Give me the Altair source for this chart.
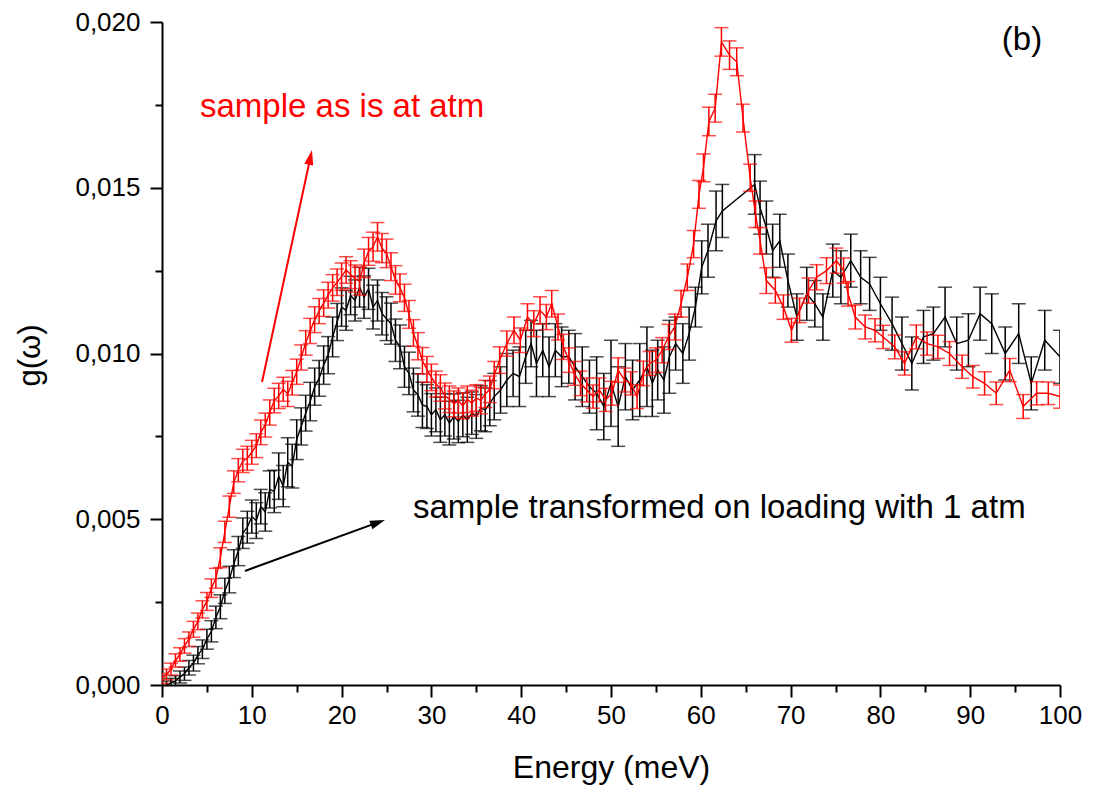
import altair as alt
import pandas as pd

# ---------------- data ----------------
# black series: "sample transformed on loading with 1 atm"
black_E = [0.5, 1.0, 1.5, 2.0, 2.5, 3.0, 3.5, 4.0, 4.5, 5.0, 5.5, 6.0, 6.5, 7.0, 7.5, 8.0, 8.5, 9.0, 9.5, 10.0,
           10.5, 11.0, 11.5, 12.0, 12.5, 13.0, 13.5, 14.0, 14.5, 15.0, 15.5, 16.0, 16.5, 17.0, 17.5, 18.0, 18.5, 19.0, 19.5, 20.0,
           20.5, 21.0, 21.5, 22.0, 22.5, 23.0, 23.5, 24.0, 24.5, 25.0, 25.5, 26.0, 26.5, 27.0, 27.5, 28.0, 28.5, 29.0, 29.5, 30.0,
           30.5, 31.0, 31.5, 32.0, 32.5, 33.0, 33.5, 34.0, 34.5, 35.0, 35.5, 36.0, 36.5, 37.0,
           37.7, 38.4, 39.1, 39.8, 40.5, 41.1, 41.7, 42.4, 43.1, 43.8, 44.5, 45.3, 46.0, 46.8, 47.6, 48.4, 49.2, 50.0, 50.8, 51.6,
           52.4, 53.2, 54.0, 54.6, 55.2, 55.9, 56.5, 57.2, 58.0, 58.7, 59.4, 60.1, 60.8, 61.7, 62.4, 66.0, 66.6, 67.3, 68.0, 68.8,
           69.7, 70.7, 71.8, 72.7, 73.6, 74.7, 75.6, 76.7, 77.8, 78.8, 80.0, 81.3, 82.4, 83.5, 84.8, 85.9, 87.2, 88.5, 89.8, 91.1,
           92.4, 93.9, 95.4, 96.8, 98.3, 100.0]
black_g = [0.00000, 0.00006, 0.00012, 0.00024, 0.00034, 0.00052, 0.00066, 0.00090, 0.00108, 0.00138,
           0.00162, 0.00204, 0.00236, 0.00284, 0.00318, 0.00366, 0.00404, 0.00458, 0.00476, 0.00508,
           0.00496, 0.00538, 0.00522, 0.00590, 0.00584, 0.00630, 0.00600, 0.00672, 0.00660, 0.00740,
           0.00780, 0.00820, 0.00855, 0.00900, 0.00925, 0.00965, 0.00995, 0.01050, 0.01095, 0.01140,
           0.01130, 0.01175, 0.01160, 0.01200, 0.01170, 0.01195, 0.01140, 0.01160, 0.01120, 0.01105,
           0.01090, 0.01040, 0.01020, 0.00960, 0.00940, 0.00890, 0.00875, 0.00845, 0.00840, 0.00815,
           0.00830, 0.00800, 0.00815, 0.00790, 0.00810, 0.00795, 0.00815, 0.00800, 0.00820, 0.00810,
           0.00835, 0.00830, 0.00850, 0.00870,
           0.0089, 0.0092, 0.0094, 0.0093, 0.0099, 0.0103, 0.0097, 0.0101, 0.0096, 0.0101,
           0.0099, 0.0099, 0.0096, 0.0093, 0.0090, 0.0088, 0.0084, 0.0091, 0.0084, 0.0093,
           0.0089, 0.0092, 0.0096, 0.0091, 0.0095, 0.0092, 0.0099, 0.0103, 0.0100, 0.0106,
           0.0114, 0.0126, 0.0131, 0.0140, 0.0143, 0.0151, 0.0144, 0.0138, 0.0131, 0.0134,
           0.0122, 0.0111, 0.0118, 0.0115, 0.0111, 0.0125, 0.0123, 0.0128, 0.0123, 0.0121,
           0.0115, 0.0109, 0.0103, 0.0097, 0.0105, 0.0106, 0.0111, 0.0103, 0.0104, 0.0112,
           0.0109, 0.0100, 0.0106, 0.0091, 0.0104, 0.0099]
black_err = [0.00012, 0.00014, 0.00016, 0.00018, 0.00020, 0.00022,
             0.00024, 0.00026, 0.00028, 0.00030, 0.00032, 0.00034, 0.00036, 0.00038,
             0.00040, 0.00042, 0.00044, 0.00046, 0.00048, 0.00050, 0.00054, 0.00052, 0.00058, 0.00056,
             0.00064, 0.00070, 0.00062, 0.00074, 0.00066, 0.00060,
             0.00056, 0.00054, 0.00058, 0.00056, 0.00054, 0.00058, 0.00056, 0.00060, 0.00056, 0.00058,
             0.00060, 0.00058, 0.00062, 0.00060, 0.00064, 0.00062, 0.00066, 0.00062, 0.00064, 0.00066,
             0.00062, 0.00064, 0.00066, 0.00062, 0.00064, 0.00066, 0.00064, 0.00068, 0.00066, 0.00064,
             0.00066, 0.00068, 0.00064, 0.00066, 0.00068, 0.00064, 0.00066, 0.00068, 0.00064, 0.00066,
             0.00068, 0.00066, 0.00068, 0.00070,
             0.0007, 0.0008, 0.0007, 0.0009, 0.0008, 0.0007, 0.0010, 0.0008, 0.0009, 0.0008,
             0.0009, 0.0008, 0.0010, 0.0009, 0.0008, 0.0011, 0.0010, 0.0013, 0.0012, 0.0010,
             0.0009, 0.0011, 0.0012, 0.0010, 0.0009, 0.0010, 0.0011, 0.0008, 0.0009, 0.0008,
             0.0006, 0.0008, 0.0008, 0.0009, 0.0008, 0.0009, 0.0008, 0.0008, 0.0008, 0.0008,
             0.0008, 0.0007, 0.0008, 0.0007, 0.0007, 0.0008, 0.0008, 0.0008, 0.0008, 0.0008,
             0.0008, 0.0008, 0.0008, 0.0008, 0.0008, 0.0008, 0.0009, 0.0008, 0.0008, 0.0008,
             0.0009, 0.0008, 0.0009, 0.0008, 0.0009, 0.0008]

# red series: "sample as is at atm"
red_E = [0.0, 0.5, 1.0, 1.5, 2.0, 2.5, 3.0, 3.5, 4.0, 4.5, 5.0, 5.5, 6.0, 6.5, 7.0, 7.5, 8.0, 8.5, 9.0, 9.5, 10.0,
         10.5, 11.0, 11.5, 12.0, 12.5, 13.0, 13.5, 14.0, 14.5, 15.0, 15.5, 16.0, 16.5, 17.0, 17.5, 18.0, 18.5, 19.0, 19.5, 20.0,
         20.5, 21.0, 21.5, 22.0, 22.5, 23.0, 23.5, 24.0, 24.5, 25.0, 25.5, 26.0, 26.5, 27.0, 27.5, 28.0, 28.5, 29.0, 29.5, 30.0,
         30.5, 31.0, 31.5, 32.0, 32.5, 33.0, 33.5, 34.0, 34.5, 35.0, 35.5, 36.0, 36.5, 37.0,
         37.6, 38.4, 39.2, 39.9, 40.7, 41.4, 42.1, 42.8, 43.4, 44.1, 44.7, 45.3, 45.9, 46.6, 47.3, 48.0, 48.7, 49.4, 50.1, 50.8,
         51.5, 52.2, 52.9, 53.6, 54.3, 55.0, 55.7, 56.4, 57.1, 57.8, 58.5, 59.2, 59.8, 60.3, 60.9, 61.6, 62.3, 63.2, 64.0, 64.7,
         65.5, 66.1, 66.6, 67.3, 68.3, 69.2, 70.1, 71.0, 72.0, 72.9, 74.0, 75.1, 75.9, 76.4, 77.2, 78.3, 79.4, 80.3, 81.6, 82.7,
         84.0, 85.2, 86.4, 87.7, 89.1, 90.3, 91.6, 92.9, 94.4, 95.9, 97.4, 98.7, 100.0]
red_g = [0.00020, 0.00032, 0.00048, 0.00074, 0.00092, 0.00118, 0.00138, 0.00168, 0.00192, 0.00228, 0.00252,
         0.00292, 0.00322, 0.00384, 0.00462, 0.00538, 0.00612, 0.00648, 0.00676, 0.00684, 0.00702,
         0.00722, 0.00762, 0.00784, 0.00822, 0.00858, 0.00872, 0.00892, 0.00878, 0.00912, 0.00945,
         0.00988, 0.01032, 0.01068, 0.01102, 0.01128, 0.01152, 0.01176, 0.01198, 0.01215, 0.01232,
         0.01252, 0.01238, 0.01226, 0.01218, 0.01272, 0.01308, 0.01322, 0.01352, 0.01318, 0.01302,
         0.01262, 0.01222, 0.01198, 0.01168, 0.01118, 0.01062, 0.01022, 0.00978, 0.00952, 0.00928,
         0.00908, 0.00896, 0.00872, 0.00862, 0.00848, 0.00858, 0.00842, 0.00862, 0.00850, 0.00866,
         0.00858, 0.00878, 0.00892, 0.00935,
         0.0098, 0.0103, 0.0107, 0.0104, 0.0111, 0.0109, 0.0113, 0.0111, 0.0115, 0.0108,
         0.0102, 0.0098, 0.0094, 0.0091, 0.0089, 0.0087, 0.0089, 0.0086, 0.0088, 0.0095,
         0.0092, 0.0091, 0.0087, 0.0094, 0.0097, 0.0098, 0.0101, 0.0105, 0.0108, 0.0115,
         0.0123, 0.0133, 0.0148, 0.0156, 0.0170, 0.0174, 0.0194, 0.0190, 0.0188, 0.0171,
         0.0153, 0.0142, 0.0134, 0.0122, 0.0119, 0.0114, 0.0107, 0.0113, 0.0119, 0.0123,
         0.0125, 0.0128, 0.0125, 0.0118, 0.0111, 0.0108, 0.0107, 0.0105, 0.0102, 0.0097,
         0.0105, 0.0103, 0.0102, 0.0100, 0.0096, 0.0093, 0.0091, 0.0088, 0.0095, 0.0084,
         0.0088, 0.0088, 0.0087]
red_err = [0.00015, 0.00016, 0.00018, 0.00020, 0.00020, 0.00022, 0.00022, 0.00024, 0.00025, 0.00026, 0.00027,
           0.00028, 0.00030, 0.00030, 0.00032, 0.00032, 0.00034, 0.00035, 0.00035, 0.00036, 0.00036,
           0.00036, 0.00037, 0.00036, 0.00038, 0.00037, 0.00038, 0.00036, 0.00038, 0.00037, 0.00038,
           0.00038, 0.00037, 0.00038, 0.00039, 0.00038, 0.00040, 0.00039, 0.00040, 0.00040, 0.00041,
           0.00040, 0.00042, 0.00041, 0.00042, 0.00043, 0.00042, 0.00044, 0.00043, 0.00044, 0.00043,
           0.00042, 0.00043, 0.00042, 0.00041, 0.00042, 0.00040, 0.00041, 0.00040, 0.00039, 0.00040,
           0.00039, 0.00040, 0.00039, 0.00040, 0.00039, 0.00038, 0.00039, 0.00040, 0.00039, 0.00040,
           0.00040, 0.00041, 0.00040, 0.00041,
           0.00040, 0.00038, 0.00040, 0.00037, 0.00040, 0.00039, 0.00041, 0.00038, 0.00040, 0.00039,
           0.00038, 0.00037, 0.00036, 0.00037, 0.00036, 0.00035, 0.00036, 0.00035, 0.00036, 0.00037,
           0.00036, 0.00035, 0.00036, 0.00037, 0.00036, 0.00037, 0.00038, 0.00038, 0.00039, 0.00040,
           0.00040, 0.00041, 0.00042, 0.00042, 0.00043, 0.00042, 0.00043, 0.00043, 0.00042, 0.00042,
           0.00041, 0.00040, 0.00040, 0.00039, 0.00038, 0.00037, 0.00036, 0.00037, 0.00038, 0.00038,
           0.00039, 0.00038, 0.00038, 0.00037, 0.00036, 0.00036, 0.00035, 0.00035, 0.00036, 0.00035,
           0.00036, 0.00035, 0.00035, 0.00036, 0.00035, 0.00034, 0.00035, 0.00034, 0.00035, 0.00036,
           0.00035, 0.00034, 0.00035]

x_tick_values = [0, 5, 10, 15, 20, 25, 30, 35, 40, 45, 50, 55, 60, 65, 70, 75, 80, 85, 90, 95, 100]
y_tick_values = [0.0, 0.0025, 0.005, 0.0075, 0.01, 0.0125, 0.015, 0.0175, 0.02]

# annotations (text, position in data units)
ann_text = ["sample as is at atm", "sample transformed on loading with 1 atm", "(b)"]
ann_x = [4.23, 27.95, 95.77]
ann_y = [0.01713, 0.00504, 0.01946]
ann_color = ["#ff0000", "#000000", "#000000"]
ann_size = [33, 33, 33]
ann_baseline = ["alphabetic", "alphabetic", "middle"]
ann_align = ["left", "left", "center"]

arrow_x = [11.14, 9.24]
arrow_y = [0.00914, 0.00344]
arrow_x2 = [16.51, 23.99]
arrow_y2 = [0.01590, 0.00490]
tip_x = [16.70, 24.83]
tip_y = [0.01614, 0.00498]
tip_angle = [12.2, 70.0]
arrow_color = ["#ff0000", "#000000"]

# ---------------- build tables ----------------
FONT = "Liberation Sans"


def series_tables(E, g, err):
    df = pd.DataFrame({"E": E, "g": g, "err": err})
    df["lo"] = df["g"] - df["err"]
    df["hi"] = df["g"] + df["err"]
    caps = pd.DataFrame({"E": list(df["E"]) * 2, "v": list(df["lo"]) + list(df["hi"])})
    return df, caps


black_df, black_caps = series_tables(black_E, black_g, black_err)
red_df, red_caps = series_tables(red_E, red_g, red_err)

ann_df = pd.DataFrame({"text": ann_text, "x": ann_x, "y": ann_y, "color": ann_color})
arrow_df = pd.DataFrame({"x": arrow_x, "y": arrow_y, "x2": arrow_x2, "y2": arrow_y2,
                         "tx": tip_x, "ty": tip_y, "ang": tip_angle, "color": arrow_color})

xs = alt.Scale(domain=[0, 100], nice=False, zero=False)
ys = alt.Scale(domain=[0, 0.02], nice=False, zero=False)

xaxis = alt.Axis(
    values=x_tick_values,
    labelExpr="datum.value % 10 === 0 ? datum.label : ''",
    format="d",
    tickSize={"condition": {"test": "datum.value % 10 === 0", "value": 12}, "value": 7},
    tickWidth=2, tickColor="black", domainWidth=2, domainColor="black",
    labelFont=FONT, labelFontSize=26, labelColor="black", labelPadding=5,
    labelFlush=False, labelOverlap=False, grid=False,
    titleFont=FONT, titleFontSize=32, titleFontWeight="normal", titleColor="black",
    titleX=449, titleY=92, titleBaseline="alphabetic", titleAlign="center",
)
yaxis = alt.Axis(
    values=y_tick_values,
    labelExpr="round(datum.value*1000) % 5 === 0 ? replace(format(datum.value, '.3f'), '.', ',') : ''",
    tickSize={"condition": {"test": "round(datum.value*1000) % 5 === 0", "value": 12}, "value": 7},
    tickWidth=2, tickColor="black", domainWidth=2, domainColor="black",
    labelFont=FONT, labelFontSize=26, labelColor="black", labelPadding=10,
    labelFlush=False, labelOverlap=False, grid=False,
    titleFont=FONT, titleFontSize=31, titleFontWeight="normal", titleColor="black",
    titleX=-132, titleY=333, titleBaseline="middle", titleAlign="center", titleAngle=270,
)

XT = "Energy (meV)"
YT = "g(ω)"


def X(field):
    return alt.X(field, type="quantitative", scale=xs, axis=xaxis, title=XT)


def Y(field):
    return alt.Y(field, type="quantitative", scale=ys, axis=yaxis, title=YT)


def series_layers(df, caps, color):
    rules = alt.Chart(df).mark_rule(color=color, strokeWidth=1.5, clip=True).encode(
        x=X("E"), y=Y("lo"), y2="hi")
    cap = alt.Chart(caps).mark_tick(color=color, orient="horizontal", size=14, thickness=1.5, clip=True).encode(
        x=X("E"), y=Y("v"))
    line = alt.Chart(df).mark_line(color=color, strokeWidth=1.4, clip=True).encode(
        x=X("E"), y=Y("g"))
    return [rules, cap, line]


texts = []
for i in range(len(ann_text)):
    sub = ann_df.iloc[[i]]
    texts.append(
        alt.Chart(sub).mark_text(font=FONT, fontSize=ann_size[i], baseline=ann_baseline[i],
                                 align=ann_align[i], color=ann_color[i]).encode(
            x=X("x"), y=Y("y"), text="text:N")
    )

arrow_lines = alt.Chart(arrow_df).mark_rule(strokeWidth=2).encode(
    x=X("x"), y=Y("y"), x2="x2", y2="y2", color=alt.Color("color:N", scale=None))
arrow_heads = alt.Chart(arrow_df).mark_point(
    shape="M0,0L0.6,2L-0.6,2Z", size=225, filled=True, opacity=1, strokeWidth=0).encode(
    x=X("tx"), y=Y("ty"), angle=alt.Angle("ang:Q", scale=None),
    color=alt.Color("color:N", scale=None))

layers = series_layers(black_df, black_caps, "#000000") + series_layers(red_df, red_caps, "#ff0000") \
    + [arrow_lines, arrow_heads] + texts

chart = alt.layer(*layers).properties(
    width=898, height=663,
    padding={"left": 162, "top": 22, "right": 50, "bottom": 102},
    autosize=alt.AutoSizeParams(type="none"),
    background="white",
).configure_view(stroke=None)

chart.save("out.html", embed_options={"renderer": "svg", "actions": False})
